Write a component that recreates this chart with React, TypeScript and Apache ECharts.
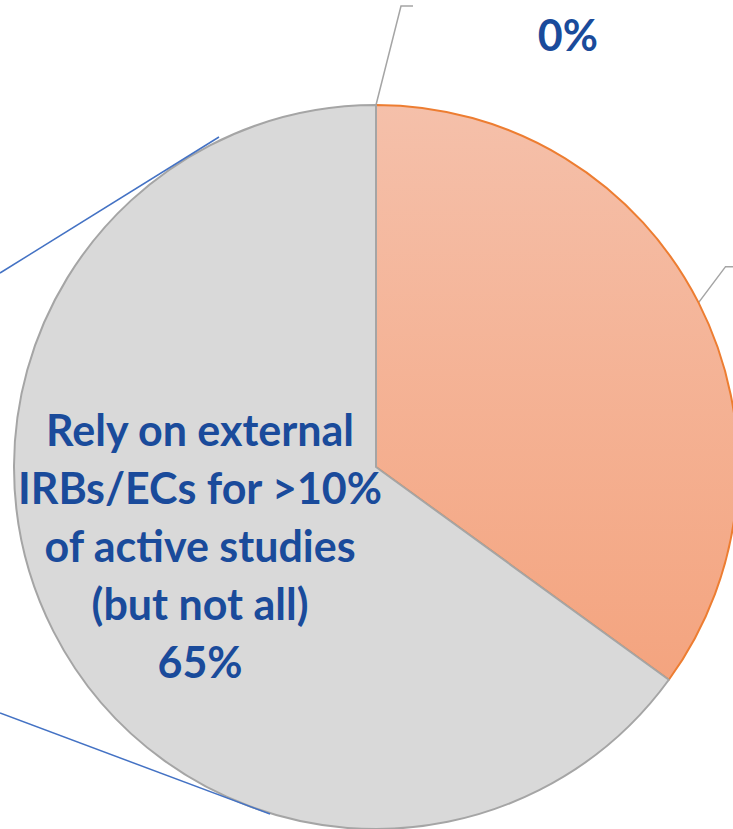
import React, { useEffect, useRef } from "react";
import * as echarts from "echarts";

const categories = [
  "None",
  "Rely on external IRBs/ECs for all active studies",
  "Rely on external\nIRBs/ECs for >10%\nof active studies\n(but not all)",
];
const values = [0, 35, 65];
const percentLabels = ["0%", "", "65%"];
const connectorLines = [
  [[0, 273], [219, 137]],
  [[0, 713], [270, 814]],
];

export default function App() {
  const ref = useRef<HTMLDivElement>(null);
  useEffect(() => {
    const chart = echarts.init(ref.current!, null, { renderer: "svg" });
    const blue = "#1A4B9B";
    const font = { color: blue, fontFamily: "Lato", fontWeight: "bold", fontSize: 43 };
    const option: any = {
      animation: false,
      backgroundColor: "#ffffff",
      graphic: connectorLines.map((l) => ({
        type: "line",
        shape: { x1: l[0][0], y1: l[0][1], x2: l[1][0], y2: l[1][1] },
        style: { stroke: "#4472C4", lineWidth: 1.5 },
        z: 10,
      })),
      series: [
        {
          type: "pie",
          center: [376, 467],
          radius: [0, 362],
          startAngle: 90,
          clockwise: true,
          avoidLabelOverlap: false,
          minShowLabelAngle: 0,
          data: categories.map((c, i) => {
            const base: any = { name: c, value: values[i] };
            if (i === 0) {
              base.itemStyle = { color: "#D9D9D9", borderColor: "#A5A5A5", borderWidth: 2 };
              base.label = { show: true, position: "outside", formatter: percentLabels[0], ...font };
              base.labelLine = { show: true, length: 60, length2: 12, lineStyle: { color: "#A5A5A5", width: 1.5 } };
            } else if (i === 1) {
              base.itemStyle = {
                color: new echarts.graphic.LinearGradient(0, 0, 0, 1, [
                  { offset: 0, color: "#F5C0AA" },
                  { offset: 1, color: "#F4A47F" },
                ]),
                borderColor: "#ED7D31",
                borderWidth: 2,
              };
              base.label = { show: true, position: "outside", formatter: percentLabels[1], ...font };
              base.labelLine = { show: true, length: 30, length2: 12, lineStyle: { color: "#A5A5A5", width: 1.5 } };
            } else {
              base.itemStyle = { color: "#D9D9D9", borderColor: "#A5A5A5", borderWidth: 2 };
              base.label = {
                show: true,
                position: "inside",
                formatter: c + "\n" + percentLabels[2],
                ...font,
                lineHeight: 58,
                align: "center",
              };
            }
            return base;
          }),
          labelLayout: (params: any) => {
            const pts = params.labelLinePoints;
            if (params.dataIndex === 0 && pts) {
              const p0 = pts[0];
              return {
                x: p0[0] + 222,
                y: p0[1] - 71,
                labelLinePoints: [p0, [p0[0] + 25, p0[1] - 99], [p0[0] + 37, p0[1] - 99]],
              };
            }
            if (params.dataIndex === 1 && pts) {
              const p0 = pts[0];
              return {
                x: p0[0] + 60,
                y: p0[1] - 36,
                labelLinePoints: [p0, [p0[0] + 27, p0[1] - 36], [p0[0] + 45, p0[1] - 36]],
              };
            }
            if (params.dataIndex === 2) {
              return { dx: -12, dy: -5 };
            }
            return {};
          },
        },
      ],
    };
    chart.setOption(option);
    return () => chart.dispose();
  }, []);
  return (
    <div
      ref={ref}
      style={{ position: "fixed", left: 0, top: 0, width: 733, height: 829 }}
    />
  );
}
